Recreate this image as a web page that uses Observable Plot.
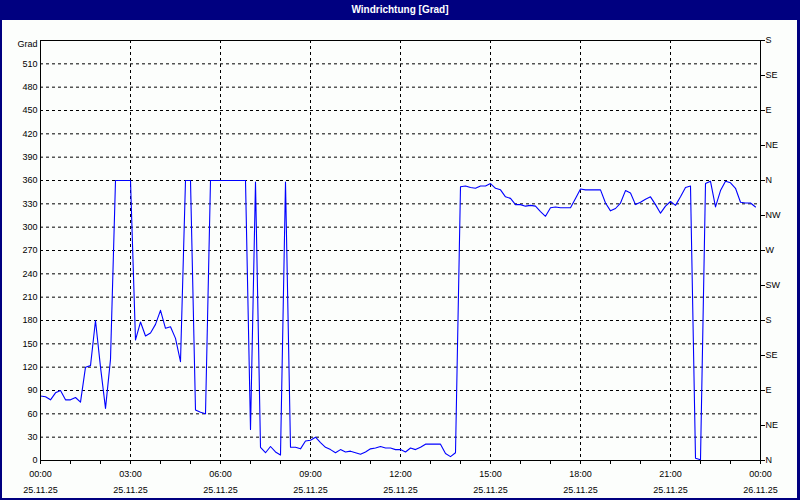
<!DOCTYPE html>
<html>
<head>
<meta charset="utf-8">
<script src="https://cdn.jsdelivr.net/npm/d3@7"></script>
<script src="https://cdn.jsdelivr.net/npm/@observablehq/plot@0.6"></script>
<style>
  html, body { margin: 0; padding: 0; background: #fcfefc; }
  #wrap { position: relative; width: 800px; height: 500px; overflow: hidden; background: #fcfefc; font-family: "Liberation Sans", Arial, sans-serif; }
  #title { position: absolute; left: 0; top: 0; width: 800px; height: 20px; background: #000080; color: #fff; font-weight: bold; font-size: 10px; line-height: 20px; text-align: center; }
  #chart { position: absolute; left: 0; top: 20px; }
  .bl { position: absolute; background: #000080; }
</style>
</head>
<body>
<div id="wrap">
  <div id="title">Windrichtung [Grad]</div>
  <div id="chart"></div>
  <div class="bl" style="left:0;top:0;width:2px;height:500px"></div>
  <div class="bl" style="left:797px;top:0;width:3px;height:500px"></div>
  <div class="bl" style="left:0;top:498px;width:800px;height:2px"></div>
</div>
<script>
// Wind direction readings every 10 minutes, 25.11.25 00:00 .. 23:50
const startTime = "2025-11-25T00:00:00Z";
const stepMinutes = 10;
const direction = [
  83, 82, 78, 87, 90, 78, 78, 81, 75, 120, 122, 180,
  120, 67, 130, 360, 360, 360, 360, 155, 178, 160, 164, 175,
  193, 170, 172, 157, 127, 360, 360, 65, 62, 60, 360, 360,
  360, 360, 360, 360, 360, 360, 40, 358, 17, 10, 18, 11,
  7, 358, 17, 17, 15, 25, 26, 30, 23, 17, 14, 10,
  14, 11, 12, 10, 8, 11, 15, 16, 18, 16, 16, 14,
  14, 11, 16, 14, 17, 21, 21, 21, 21, 9, 5, 10,
  352, 353, 351, 350, 353, 353, 356, 350, 348, 339, 337, 329,
  329, 327, 328, 327, 320, 314, 325, 326, 325, 325, 325, 337,
  349, 348, 348, 348, 348, 331, 321, 324, 331, 347, 344, 329,
  332, 336, 339, 329, 318, 327, 333, 328, 339, 351, 353, 3,
  1, 356, 359, 326, 347, 359, 357, 350, 332, 331, 331, 326
];
const yTicksLeft = [0, 30, 60, 90, 120, 150, 180, 210, 240, 270, 300, 330, 360, 390, 420, 450, 480, 510];
const yTicksRight = [0, 45, 90, 135, 180, 225, 270, 315, 360, 405, 450, 495, 540];
const compassLabels = ["N", "NE", "E", "SE", "S", "SW", "W", "NW", "N", "NE", "E", "SE", "S"];
const yGrid = [30, 60, 90, 120, 150, 180, 210, 240, 270, 300, 330, 360, 390, 420, 450, 480, 510];
const yUnitLabel = "Grad";
const xDomain = ["2025-11-25T00:00:00Z", "2025-11-26T00:00:00Z"];

const t0 = new Date(startTime);
const data = direction.map((v, i) => ({time: new Date(t0.getTime() + i * stepMinutes * 60000), dir: v}));
const xStart = new Date(xDomain[0]), xEnd = new Date(xDomain[1]);
const majorTicks = d3.utcHour.every(3).range(xStart, d3.utcHour.offset(xEnd, 1));
const minorTicks = d3.utcHour.every(1).range(xStart, d3.utcHour.offset(xEnd, 1));
const gridTicks = majorTicks.filter(d => d > xStart && d < xEnd);
const fmtTime = d3.utcFormat("%H:%M");
const fmtDate = d3.utcFormat("%d.%m.%y");

const chart = Plot.plot({
  width: 800,
  height: 480,
  marginTop: 20,
  marginBottom: 40,
  marginLeft: 40,
  marginRight: 40,
  style: {background: "transparent", fontFamily: "'Liberation Sans', Arial, sans-serif", fontSize: "9px", color: "#000"},
  x: {type: "utc", domain: [xStart, xEnd]},
  y: {domain: [0, 540]},
  marks: [
    Plot.ruleY(yGrid, {stroke: "#000", strokeDasharray: "3,3", strokeWidth: 1}),
    Plot.ruleX(gridTicks, {stroke: "#000", strokeDasharray: "3,3", strokeWidth: 1}),
    Plot.line(data, {x: "time", y: "dir", stroke: "#0000ff", strokeWidth: 1.1}),
    Plot.frame({stroke: "#000", strokeWidth: 1}),
    Plot.axisY({ticks: yTicksLeft, anchor: "left", tickSize: 0, tickPadding: 3, tickFormat: d => String(d), label: null}),
    Plot.text([yUnitLabel], {x: xStart, y: 540, text: d => d, textAnchor: "end", dx: -3, dy: 4, fill: "#000"}),
    Plot.axisY({ticks: yTicksRight, anchor: "right", tickSize: 4, tickPadding: 1, tickFormat: (d, i) => compassLabels[yTicksRight.indexOf(d)], label: null}),
    Plot.axisX({ticks: minorTicks, anchor: "bottom", tickSize: 4, tickFormat: () => "", label: null}),
    Plot.axisX({ticks: majorTicks, anchor: "bottom", tickSize: 0, tickPadding: 10, tickFormat: fmtTime, label: null}),
    Plot.axisX({ticks: majorTicks, anchor: "bottom", tickSize: 0, tickPadding: 26, tickFormat: fmtDate, label: null})
  ]
});
document.getElementById("chart").appendChild(chart);
</script>
</body>
</html>
